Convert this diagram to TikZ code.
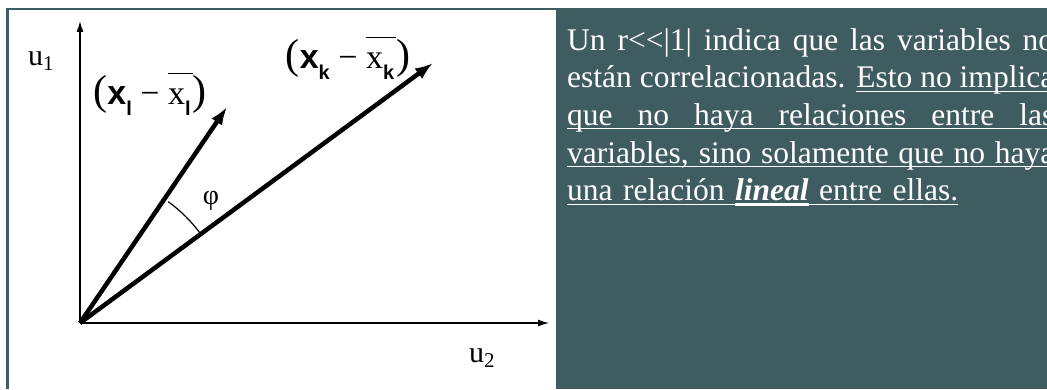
\documentclass[tikz,border=0pt]{standalone}
\usepackage{fontspec}
\setmainfont{Liberation Serif}
\setsansfont{Liberation Sans}
\usepackage{tikz}
\usetikzlibrary{arrows.meta}
\definecolor{panel}{RGB}{63,92,97}
\newlength{\paraw}
\setlength{\paraw}{487pt}
\newcommand{\ulw}[1]{\leavevmode\setbox0\hbox{#1}\rlap{\rule[-4pt]{\wd0}{1.2pt}}\box0}
\newcommand{\ulthick}[1]{\leavevmode\setbox0\hbox{#1}\rlap{\rule[-5pt]{\wd0}{2.6pt}}\box0}
\newcommand{\fullline}[1]{\leavevmode\makebox[\paraw][s]{\spaceskip=0pt\xspaceskip=0pt\relax #1}}
\newcommand{\ulline}[1]{\leavevmode\rlap{\rule[-4pt]{\paraw}{1.2pt}}\fullline{#1}}
\newcommand{\vx}[1]{\textbf{\sffamily x\raisebox{-0.3em}{\fontsize{20}{20}\selectfont #1}}}
\newcommand{\vxbar}[1]{\setbox0\hbox{x\raisebox{-0.3em}{\fontsize{20}{20}\selectfont\bfseries\sffamily #1}\kern2pt}\rlap{\rule[0.9em]{\wd0}{0.045em}}\box0}
\newcommand{\bigparen}[1]{{\fontsize{42}{42}\selectfont #1}}

\begin{document}
\begin{tikzpicture}[x=1pt, y=1pt,
  axis/.style={line width=1.3, -{Latex[length=11pt,width=7pt]}},
  vec/.style={line width=4.5, -{Latex[length=18pt,width=13pt]}},
  lbl/.style={font=\fontsize{30}{30}\selectfont, inner sep=0},
  para/.style={anchor=north west, inner sep=0, text width=\paraw, align=left,
    text=white, font=\fontsize{31.5}{37.7}\selectfont}]
\clip (0,0) rectangle (1047,389);
\fill[white] (0,0) rectangle (1047,389);
% -- right panel and frame --
\fill[panel] (556,0) rectangle (1047,381);
\draw[panel, line width=2.5] (7.5,0) |- (556,380);
% -- axes --
\coordinate (O) at (80,66);
\coordinate (u1tip) at (80,368);
\coordinate (u2tip) at (549,66);
\draw[axis] (O) -- (u1tip);
\draw[axis] (O) -- (u2tip);
\node[lbl] (u1) at (41,328) {u\textsubscript{1}};
\node[lbl] (u2) at (482,31) {u\textsubscript{2}};
% -- vectors --
\coordinate (xl) at (227,282);
\coordinate (xk) at (433,326);
\draw[vec] (O) -- (xl);
\draw[vec] (O) -- (xk);
\node[lbl, font=\fontsize{34}{34}\selectfont] (xllbl) at (150,295) {\bigparen{(}\vx{l} − \vxbar{l}\bigparen{)}};
\node[lbl, font=\fontsize{34}{34}\selectfont] (xklbl) at (348,331) {\bigparen{(}\vx{k} − \vxbar{k}\bigparen{)}};
% -- angle --
\draw[line width=1.2] (O) ++(54:150) arc[start angle=54, end angle=36.4, radius=150];
\node[lbl, font=\fontsize{28}{28}\selectfont] (phi) at (211,188) {φ};
% -- text --
\node[para] (txt) at (567,361) {\fullline{Un r<{}<|1| indica que las variables no}\\
\fullline{están correlacionadas. \ulw{Esto no implica}}\\
\ulline{que no haya relaciones entre las}\\
\ulline{variables, sino solamente que no haya}\\
\ulw{una relación }\ulthick{\textbf{\textit{lineal}}}\ulw{ entre ellas.}};
\end{tikzpicture}
\end{document}
